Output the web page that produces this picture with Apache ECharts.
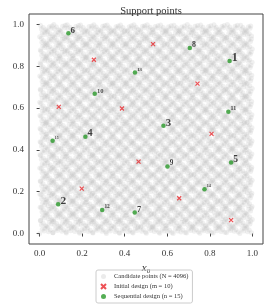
<!DOCTYPE html>
<html><head><meta charset="utf-8">
<script src="https://cdn.jsdelivr.net/npm/echarts@6/dist/echarts.min.js"></script>
<style>html,body{margin:0;padding:0;background:#fff}#c{width:266px;height:305px}</style>
</head><body><div id="c"></div>
<script>
// Initial design (m = 10)
const initX = [0.255, 0.533, 0.742, 0.090, 0.387, 0.808, 0.465, 0.198, 0.656, 0.900];
const initY = [0.831, 0.906, 0.717, 0.606, 0.598, 0.477, 0.344, 0.215, 0.169, 0.064];
// Sequential design (n = 15), in selection order 1..15
const seqX = [0.893, 0.087, 0.582, 0.215, 0.900, 0.135, 0.447, 0.706, 0.601, 0.259, 0.887, 0.294, 0.448, 0.775, 0.061];
const seqY = [0.825, 0.140, 0.515, 0.463, 0.340, 0.958, 0.101, 0.887, 0.321, 0.668, 0.583, 0.113, 0.770, 0.212, 0.444];
const seqLabels = ['1','2','3','4','5','6','7','8','9','10','11','12','13','14','15'];
const xTicks = [0.0, 0.2, 0.4, 0.6, 0.8, 1.0];
const yTicks = [0.0, 0.2, 0.4, 0.6, 0.8, 1.0];
const nCandidates = 4096;

// Candidate set: 2-D Sobol net of N = 4096 points
function sobolSet(n) {
  const bits = 12;
  const v1 = [], v2 = [];
  let m = 1;
  for (let k = 1; k <= bits; k++) {
    v1.push(1 << (bits - k));
    v2.push(m << (bits - k));
    m = (m << 1) ^ m;
  }
  const pts = [];
  for (let i = 0; i < n; i++) {
    let a = 0, b = 0;
    for (let k = 0; k < bits; k++) {
      if ((i >> k) & 1) { a ^= v1[k]; b ^= v2[k]; }
    }
    pts.push([a / (1 << bits), b / (1 << bits)]);
  }
  return pts;
}
const candidates = sobolSet(nCandidates);

const serif = '"Liberation Serif", "DejaVu Serif", serif';
const xPath = 'path://M0,0L10,10M10,0L0,10';
const chart = echarts.init(document.getElementById('c'), null, {renderer: 'canvas'});
chart.setOption({
  animation: false,
  title: {text: 'Support points', left: 146, textAlign: 'center', top: 1,
    textStyle: {fontFamily: serif, fontSize: 10.5, fontWeight: 'normal', color: '#333'}},
  grid: {left: 29, right: 3, top: 14, bottom: 61, show: true, borderColor: '#444', borderWidth: 1,
    containLabel: false, outerBoundsMode: 'none'},
  xAxis: {type: 'value', min: -0.05, max: 1.05, splitLine: {show: false},
    axisLine: {show: false}, axisTick: {show: true, length: 3, lineStyle: {color: '#444'}, customValues: xTicks},
    axisLabel: {fontFamily: serif, fontSize: 9, color: '#333', margin: 5,
      customValues: xTicks, formatter: v => v.toFixed(1)},
    name: '{i|x}{s|0}', nameLocation: 'middle', nameGap: 10,
    nameTextStyle: {rich: {i: {fontFamily: serif, fontStyle: 'italic', fontSize: 11, color: '#333'},
      s: {fontFamily: serif, fontSize: 7, color: '#333', padding: [6, 0, 0, 0]}}}},
  yAxis: {type: 'value', min: -0.05, max: 1.05, splitLine: {show: false},
    axisLine: {show: false}, axisTick: {show: true, length: 3, lineStyle: {color: '#444'}, customValues: yTicks},
    axisLabel: {fontFamily: serif, fontSize: 9, color: '#333', margin: 5,
      customValues: yTicks, formatter: v => v.toFixed(1)},
    name: '{i|x}{s|1}', nameLocation: 'middle', nameGap: 24, nameRotate: 90,
    nameTextStyle: {rich: {i: {fontFamily: serif, fontStyle: 'italic', fontSize: 11, color: '#333'},
      s: {fontFamily: serif, fontSize: 7, color: '#333', padding: [6, 0, 0, 0]}}}},
  legend: {orient: 'vertical', left: 96, top: 270, itemWidth: 5, itemHeight: 5, itemGap: 3,
    padding: [3, 4, 3, 4], borderColor: '#ccc', borderWidth: 1, borderRadius: 2,
    textStyle: {fontFamily: serif, fontSize: 6.5, color: '#333', padding: [0, 0, 0, 3]},
    data: [
      {name: 'Candidate points (N = 4096)', icon: 'circle', itemStyle: {color: '#e6e6e6'}},
      {name: 'Initial design (m = 10)', icon: xPath},
      {name: 'Sequential design (n = 15)', icon: 'circle'}
    ]},
  series: [
    {name: 'Candidate points (N = 4096)', type: 'scatter', symbol: 'circle', symbolSize: 5,
      large: false, silent: true,
      itemStyle: {color: 'rgba(170,170,170,0.22)'}, data: candidates},
    {name: 'Initial design (m = 10)', type: 'scatter', symbol: xPath, symbolSize: 4, z: 3,
      itemStyle: {color: 'transparent', borderColor: '#e8262a', borderWidth: 1.2},
      data: initX.map((x, i) => [x, initY[i]])},
    {name: 'Sequential design (n = 15)', type: 'scatter', symbol: 'circle', symbolSize: 4.5, z: 4,
      itemStyle: {color: '#2a9a2a'},
      label: {show: true, position: 'right', fontFamily: serif, fontWeight: 'bold', color: '#111'},
      data: seqX.map((x, i) => ({value: [x, seqY[i]],
        label: {formatter: seqLabels[i], fontSize: Math.max(3, 12 - 0.6 * i), distance: 0,
          offset: [0, -3]}}))}
  ]
});
</script></body></html>
